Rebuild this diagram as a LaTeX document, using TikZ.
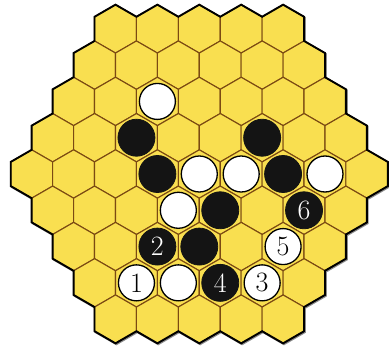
\documentclass[tikz,border=0pt]{standalone}
\definecolor{hexfill}{HTML}{F9DF50}
\definecolor{hexline}{HTML}{7B4A12}
\definecolor{stoneblack}{HTML}{141414}
\begin{document}
\begin{tikzpicture}[x=20.95pt,y=-12.095pt,
  cell/.style={fill=hexfill,draw=hexline,line width=1.1pt,line join=round},
  rim/.style={draw=black,line width=1.9pt,line join=miter},
  rimshadow/.style={draw=black!45,line width=1.9pt},
  bstone/.style={circle,fill=stoneblack,draw=stoneblack,line width=0.8pt,minimum size=37pt,inner sep=0pt,text=white,font=\fontsize{28}{28}\selectfont},
  wstone/.style={circle,fill=white,draw=black,line width=1.3pt,minimum size=36pt,inner sep=0pt,text=black,font=\fontsize{28}{28}\selectfont}]
\useasboundingbox (-9.513,-14.386) rectangle (9.055,14.303);
% shadow of the rim
\draw[rimshadow,xshift=0.9pt,yshift=-0.9pt]
 (-5,-13) -- (-4,-14) -- (-3,-13) -- (-2,-14) -- (-1,-13) -- (0,-14) -- (1,-13) -- (2,-14) -- (3,-13) -- (4,-14) -- (5,-13)
 -- (5,-11) -- (6,-10) -- (6,-8) -- (7,-7) -- (7,-5) -- (8,-4) -- (8,-2) -- (9,-1) -- (9,1)
 -- (8,2) -- (8,4) -- (7,5) -- (7,7) -- (6,8) -- (6,10) -- (5,11) -- (5,13)
 -- (4,14) -- (3,13) -- (2,14) -- (1,13) -- (0,14) -- (-1,13) -- (-2,14) -- (-3,13) -- (-4,14) -- (-5,13)
 -- (-5,11) -- (-6,10) -- (-6,8) -- (-7,7) -- (-7,5) -- (-8,4) -- (-8,2) -- (-9,1) -- (-9,-1)
 -- (-8,-2) -- (-8,-4) -- (-7,-5) -- (-7,-7) -- (-6,-8) -- (-6,-10) -- (-5,-11) -- cycle;
% cells
\foreach \r in {0,...,8}{
  \pgfmathtruncatemacro{\n}{9-abs(\r-4)}
  \pgfmathtruncatemacro{\last}{\n-1}
  \foreach \c in {0,...,\last}{
    \pgfmathsetmacro{\X}{2*\c-(\n-1)}
    \pgfmathsetmacro{\Y}{-12+3*\r}
    \draw[cell] (\X,\Y-2) -- (\X+1,\Y-1) -- (\X+1,\Y+1) -- (\X,\Y+2) -- (\X-1,\Y+1) -- (\X-1,\Y-1) -- cycle;
  }
}
% rim
\draw[rim]
 (-5,-13) -- (-4,-14) -- (-3,-13) -- (-2,-14) -- (-1,-13) -- (0,-14) -- (1,-13) -- (2,-14) -- (3,-13) -- (4,-14) -- (5,-13)
 -- (5,-11) -- (6,-10) -- (6,-8) -- (7,-7) -- (7,-5) -- (8,-4) -- (8,-2) -- (9,-1) -- (9,1)
 -- (8,2) -- (8,4) -- (7,5) -- (7,7) -- (6,8) -- (6,10) -- (5,11) -- (5,13)
 -- (4,14) -- (3,13) -- (2,14) -- (1,13) -- (0,14) -- (-1,13) -- (-2,14) -- (-3,13) -- (-4,14) -- (-5,13)
 -- (-5,11) -- (-6,10) -- (-6,8) -- (-7,7) -- (-7,5) -- (-8,4) -- (-8,2) -- (-9,1) -- (-9,-1)
 -- (-8,-2) -- (-8,-4) -- (-7,-5) -- (-7,-7) -- (-6,-8) -- (-6,-10) -- (-5,-11) -- cycle;
% stones
\node[wstone] (w1) at (-2,-6) {};
\node[bstone] (b1) at (-3,-3) {};
\node[bstone] (b2) at (3,-3) {};
\node[bstone] (b3) at (-2,0) {};
\node[wstone] (w2) at (0,0) {};
\node[wstone] (w3) at (2,0) {};
\node[bstone] (b4) at (4,0) {};
\node[wstone] (w4) at (6,0) {};
\node[wstone] (w5) at (-1,3) {};
\node[bstone] (b5) at (1,3) {};
\node[bstone] (m6) at (5,3) {6};
\node[bstone] (m2) at (-2,6) {2};
\node[bstone] (b6) at (0,6) {};
\node[wstone] (m5) at (4,6) {5};
\node[wstone] (m1) at (-3,9) {1};
\node[wstone] (w6) at (-1,9) {};
\node[bstone] (m4) at (1,9) {4};
\node[wstone] (m3) at (3,9) {3};
\end{tikzpicture}
\end{document}
